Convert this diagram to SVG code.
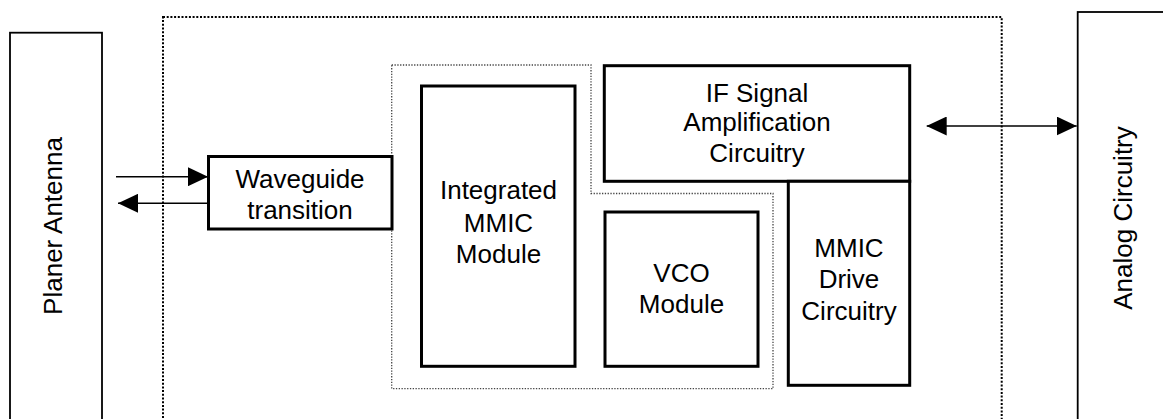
<svg xmlns="http://www.w3.org/2000/svg" width="1163" height="419" viewBox="0 0 1163 419">
<defs>
<style>
text{font-family:"Liberation Sans",Arial,sans-serif;font-size:26px;fill:#000;text-anchor:middle}
.thin{fill:#fff;stroke:#000;stroke-width:1.8}
.thick{fill:#fff;stroke:#000;stroke-width:3}
.outer{fill:none;stroke:#000;stroke-width:2;stroke-dasharray:2 1.7}
.inner{fill:none;stroke:#444;stroke-width:1.3;stroke-dasharray:1.3 1.5}
.conn{fill:none;stroke:#000;stroke-width:1.6}
</style>
<marker id="ah" viewBox="0 0 20 19" markerWidth="20" markerHeight="19" refX="20" refY="9.5" orient="auto-start-reverse" markerUnits="userSpaceOnUse">
<path d="M0,0 L20,9.5 L0,19 Z" fill="#000"/>
</marker>
</defs>
<rect width="1163" height="419" fill="#fff"/>
<g id="outer-boundary"><rect class="outer" x="163" y="17" width="838.7" height="420"/></g>
<g id="mmic-region"><path class="inner" d="M391.7,65 L591,65 L591,193.5 L773,193.5 L773,388.7 L391.7,388.7 Z"/></g>
<g id="planer-antenna">
<rect class="thin" x="10" y="32.7" width="92" height="400"/>
<text transform="translate(62,226) rotate(-90)">Planer Antenna</text>
</g>
<g id="analog-circuitry">
<rect class="thin" x="1077.7" y="12" width="100" height="420"/>
<text transform="translate(1131.7,218) rotate(-90)">Analog Circuitry</text>
</g>
<g id="waveguide-transition">
<rect class="thick" x="208.5" y="156.5" width="183.5" height="72.5"/>
<text x="300" y="188.3">Waveguide</text>
<text x="300" y="219.3">transition</text>
</g>
<g id="integrated-mmic">
<rect class="thick" x="421.5" y="86" width="153.5" height="280.3"/>
<text x="498.5" y="199.3">Integrated</text>
<text x="498.5" y="231.5">MMIC</text>
<text x="498.5" y="263.3">Module</text>
</g>
<g id="if-signal">
<rect class="thick" x="604.3" y="65.7" width="305.4" height="115.6"/>
<text x="757" y="101.7">IF Signal</text>
<text x="757" y="131.2">Amplification</text>
<text x="757" y="161.7">Circuitry</text>
</g>
<g id="vco-module">
<rect class="thick" x="605" y="212" width="153" height="154.3"/>
<text x="681.5" y="281.7">VCO</text>
<text x="681.5" y="313.3">Module</text>
</g>
<g id="mmic-drive">
<rect class="thick" x="788.3" y="181.3" width="121.4" height="204"/>
<text x="849" y="256.7">MMIC</text>
<text x="849" y="288.3">Drive</text>
<text x="849" y="319.5">Circuitry</text>
</g>
<g id="connectors">
<line class="conn" x1="116" y1="176.7" x2="208" y2="176.7" marker-end="url(#ah)"/>
<line class="conn" x1="208" y1="203.3" x2="118" y2="203.3" marker-end="url(#ah)"/>
<line class="conn" x1="926.7" y1="126" x2="1076.7" y2="126" marker-start="url(#ah)" marker-end="url(#ah)"/>
</g>
</svg>
